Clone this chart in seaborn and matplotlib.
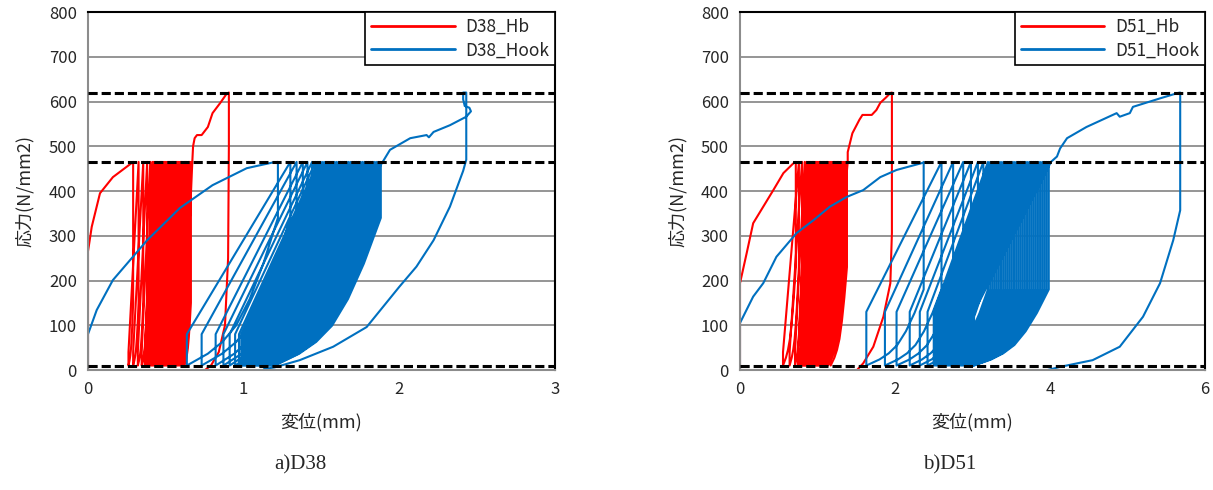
import numpy as np
import pandas as pd
import matplotlib
matplotlib.use('Agg')
import matplotlib.pyplot as plt
import seaborn as sns

# ---- data (displacement mm, stress N/mm2) ----
ref_levels = [620, 465, 10]

# D38 Hb (red)
hb38_env_x = [0, 0.0, 0.024, 0.077, 0.16, 0.27, 0.29]
hb38_env_y = [0, 265, 320, 395, 431, 460, 465]
hb38_peaks = [0.29, 0.325, 0.355, 0.38, 0.40,
              0.414, 0.423, 0.431, 0.440, 0.448, 0.457, 0.465, 0.474, 0.482, 0.491,
              0.499, 0.508, 0.516, 0.525, 0.533, 0.542, 0.550, 0.559, 0.567, 0.576,
              0.584, 0.593, 0.601, 0.610, 0.618, 0.627, 0.635, 0.644, 0.652, 0.661, 0.670]
hb38_valleys = [0.26, 0.29, 0.32, 0.345, 0.365,
                0.378, 0.386, 0.394, 0.402, 0.410, 0.418, 0.426, 0.434, 0.442, 0.450,
                0.458, 0.466, 0.474, 0.482, 0.490, 0.498, 0.506, 0.514, 0.522, 0.530,
                0.538, 0.546, 0.554, 0.562, 0.570, 0.578, 0.587, 0.596, 0.606, 0.618]
hb38_tail_x = [0.675, 0.685, 0.70, 0.73, 0.77, 0.80, 0.85, 0.89, 0.905, 0.905, 0.90, 0.88, 0.84, 0.79, 0.74]
hb38_tail_y = [500, 518, 525, 525, 543, 574, 597, 617, 620, 500, 250, 100, 40, 10, -3]

# D38 Hook (blue)
hk38_env_x = [0, 0, 0.056, 0.16, 0.38, 0.59, 0.80, 1.02, 1.19, 1.22]
hk38_env_y = [0, 80, 134, 201, 290, 362, 413, 451, 464, 465]
hk38_peaks = [1.22, 1.30, 1.34, 1.38, 1.41, 1.44, 1.462,
              1.478, 1.491, 1.504, 1.517, 1.530, 1.543, 1.556, 1.569, 1.582, 1.595,
              1.608, 1.621, 1.634, 1.647, 1.660, 1.673, 1.686, 1.699, 1.712, 1.725,
              1.738, 1.751, 1.764, 1.777, 1.790, 1.803, 1.816, 1.829, 1.842, 1.855,
              1.868, 1.881, 1.893, 1.900]
hk38_valleys = [0.635, 0.73, 0.82, 0.87, 0.91, 0.945, 0.97,
                0.985, 0.992, 0.999, 1.006, 1.013, 1.020, 1.027, 1.034, 1.041, 1.048,
                1.055, 1.062, 1.069, 1.076, 1.083, 1.090, 1.097, 1.104, 1.111, 1.118,
                1.125, 1.132, 1.139, 1.146, 1.153, 1.160, 1.167, 1.174, 1.181, 1.188,
                1.195, 1.200]
hk38_tail_x = [1.94, 2.07, 2.175, 2.19, 2.22, 2.325, 2.43, 2.46, 2.45, 2.42, 2.41, 2.41, 2.43,
               2.43, 2.41, 2.325, 2.22, 2.11, 2.0, 1.895, 1.79, 1.575, 1.36, 1.2, 1.13]
hk38_tail_y = [492, 518, 525, 520, 532, 547, 566, 578, 586, 590, 605, 620, 620,
               470, 445, 365, 290, 231, 186, 141, 96, 52, 22, 6, 2]

# D51 Hb (red)
hb51_env_x = [0, 0, 0.086, 0.17, 0.30, 0.43, 0.56, 0.69, 0.72]
hb51_env_y = [0, 194, 261, 328, 365, 402, 440, 462, 465]
hb51_peaks = [0.72, 0.76, 0.80, 0.835, 0.86, 0.88,
              0.897, 0.915, 0.933, 0.951, 0.969, 0.987, 1.005, 1.023, 1.041, 1.059,
              1.077, 1.095, 1.113, 1.131, 1.149, 1.167, 1.185, 1.203, 1.221, 1.239,
              1.257, 1.275, 1.293, 1.311, 1.329, 1.347, 1.365, 1.380, 1.390]
hb51_valleys = [0.555, 0.64, 0.71, 0.75, 0.78, 0.80,
                0.812, 0.824, 0.836, 0.848, 0.860, 0.872, 0.884, 0.896, 0.908, 0.920,
                0.932, 0.944, 0.956, 0.968, 0.980, 0.992, 1.004, 1.016, 1.028, 1.040,
                1.052, 1.064, 1.076, 1.088, 1.100, 1.115, 1.135, 1.170]
hb51_tail_x = [1.39, 1.45, 1.54, 1.58, 1.70, 1.76, 1.81, 1.89, 1.94, 1.96, 1.96, 1.94, 1.85, 1.72, 1.59, 1.51]
hb51_tail_y = [487, 529, 559, 570, 570, 581, 597, 610, 619, 620, 306, 194, 119, 52, 15, 0]

# D51 Hook (blue)
hk51_env_x = [0, 0, 0.17, 0.30, 0.47, 0.73, 0.95, 1.16, 1.38, 1.59, 1.81, 2.02, 2.36, 2.37]
hk51_env_y = [0, 105, 164, 194, 253, 306, 335, 365, 387, 402, 431, 447, 463, 465]
hk51_peaks = [2.37, 2.60, 2.75, 2.88, 2.98, 3.07, 3.14,
              3.200, 3.228, 3.256, 3.284, 3.312, 3.340, 3.368, 3.396, 3.424, 3.452,
              3.480, 3.508, 3.536, 3.564, 3.592, 3.620, 3.648, 3.676, 3.704, 3.732,
              3.760, 3.788, 3.816, 3.844, 3.872, 3.900, 3.928, 3.956, 3.984, 4.012, 4.040]
hk51_valleys = [1.63, 1.87, 2.02, 2.19, 2.32, 2.42, 2.50,
                2.52, 2.54, 2.56, 2.58, 2.60, 2.62, 2.64, 2.66, 2.68, 2.70,
                2.72, 2.74, 2.76, 2.78, 2.80, 2.82, 2.84, 2.86, 2.88, 2.90,
                2.92, 2.94, 2.96, 2.97, 2.98, 2.99, 3.00, 3.01, 3.02]
hk51_tail_x = [4.09, 4.13, 4.22, 4.47, 4.86, 4.90, 5.03, 5.07, 5.42, 5.65, 5.68,
               5.68, 5.59, 5.42, 5.20, 4.90, 4.55, 4.13, 3.97]
hk51_tail_y = [477, 495, 518, 543, 574, 566, 574, 588, 607, 619, 620,
               357, 290, 194, 119, 52, 22, 7, 0]

# shape of the unloading branch (fractions of the span from valley to peak)
UNLOAD_SHAPE = [(0.84, 0.69), (0.69, 0.45), (0.54, 0.27), (0.39, 0.16), (0.23, 0.08)]


def build_curve(env_x, env_y, peaks, valleys, y_drop, y_reload, tail_x, tail_y, y_min=10, y_max=465):
    xs, ys = list(env_x), list(env_y)
    for xp, xv, xn in zip(peaks[:-1], valleys, peaks[1:]):
        xs.append(xp); ys.append(y_drop)
        for fx, fy in UNLOAD_SHAPE:
            xs.append(xv + fx * (xp - xv)); ys.append(y_min + fy * (y_drop - y_min))
        xs += [xv, xv, xn]
        ys += [y_min, y_reload, y_max]
    xs += list(tail_x); ys += list(tail_y)
    return pd.DataFrame({'disp': xs, 'stress': ys})


sns.set_style('white')
plt.rcParams['font.family'] = ['Noto Sans CJK JP', 'DejaVu Sans']

RED = '#FF0000'
BLUE = '#0070C0'

fig = plt.figure(figsize=(12.13, 4.90), dpi=100)
ax1 = fig.add_axes([88 / 1213, 120 / 490, 467 / 1213, 358 / 490])
ax2 = fig.add_axes([740 / 1213, 120 / 490, 465 / 1213, 358 / 490])

panels = [
    (ax1, 'D38', 3, [0, 1, 2, 3],
     build_curve(hb38_env_x, hb38_env_y, hb38_peaks, hb38_valleys, 150, 40, hb38_tail_x, hb38_tail_y),
     build_curve(hk38_env_x, hk38_env_y, hk38_peaks, hk38_valleys, 340, 80, hk38_tail_x, hk38_tail_y),
     'a)D38', 300),
    (ax2, 'D51', 6, [0, 2, 4, 6],
     build_curve(hb51_env_x, hb51_env_y, hb51_peaks, hb51_valleys, 230, 40, hb51_tail_x, hb51_tail_y),
     build_curve(hk51_env_x, hk51_env_y, hk51_peaks, hk51_valleys, 180, 130, hk51_tail_x, hk51_tail_y),
     'b)D51', 950),
]

for ax, name, xmax, xticks, hb, hk, caption, cap_px in panels:
    for yv in range(100, 800, 100):
        ax.axhline(yv, color='#8c8c8c', lw=1.3, zorder=0)
    sns.lineplot(data=hb, x='disp', y='stress', sort=False, estimator=None,
                 color=RED, lw=1.5, ax=ax, label=name + '_Hb')
    sns.lineplot(data=hk, x='disp', y='stress', sort=False, estimator=None,
                 color=BLUE, lw=1.5, ax=ax, label=name + '_Hook')
    for lv in ref_levels:
        ax.axhline(lv, color='black', lw=2.2, dashes=(3, 1.3), zorder=5)

    ax.set_xlim(0, xmax)
    ax.set_ylim(0, 800)
    ax.set_xticks(xticks)
    ax.set_yticks(range(0, 900, 100))
    ax.tick_params(axis='both', direction='out', length=5, width=1.2, color='#8c8c8c',
                   labelsize=12, pad=3)
    for side in ['left', 'bottom']:
        ax.spines[side].set_color('#8c8c8c')
        ax.spines[side].set_linewidth(1.5)
    for side in ['top', 'right']:
        ax.spines[side].set_color('black')
        ax.spines[side].set_linewidth(1.5)
    ax.set_xlabel('変位(mm)', fontsize=13)
    ax.set_ylabel('応力(N/mm2)', fontsize=13)
    ax.xaxis.set_label_coords(0.5, -0.12)
    ax.yaxis.set_label_coords(-0.115, 0.5)

    leg = ax.legend(loc='upper right', borderaxespad=0, fancybox=False, edgecolor='black',
                    fontsize=12.5, handlelength=4.8, borderpad=0.35, labelspacing=0.3,
                    handletextpad=0.6, framealpha=1)
    leg.get_frame().set_linewidth(1.2)
    for line in leg.get_lines():
        line.set_linewidth(2)

    fig.text(cap_px / 1213, 25 / 490, caption, ha='center', va='center',
             fontsize=15, family='Liberation Serif')

fig.savefig('out.png', dpi=100)
